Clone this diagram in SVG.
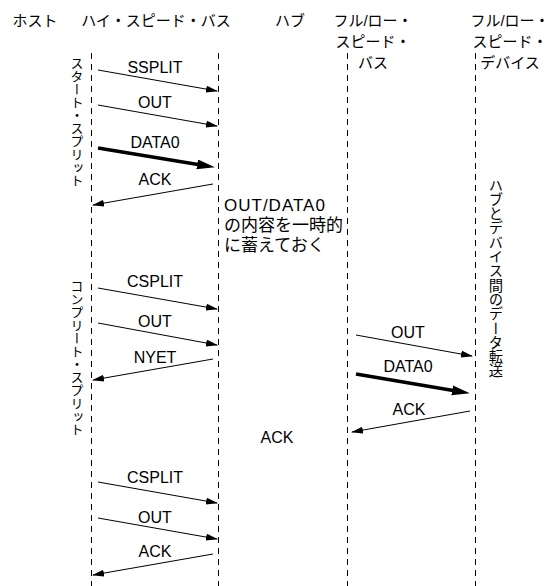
<svg xmlns="http://www.w3.org/2000/svg" width="560" height="586" viewBox="0 0 560 586">
<style>
.hd{font-family:"Liberation Sans","Noto Sans CJK JP",sans-serif;font-size:15px;fill:#000;text-anchor:middle}
.lb{font-family:"Liberation Sans","Noto Sans CJK JP",sans-serif;font-size:16px;fill:#000;text-anchor:middle}
.nt{font-family:"Liberation Sans","Noto Sans CJK JP",sans-serif;font-size:17px;fill:#000}
.vt{font-family:"Noto Sans CJK JP",sans-serif;font-size:13px;fill:#000;writing-mode:vertical-rl;text-orientation:upright}
.a{stroke:#000;stroke-width:1;fill:none;marker-end:url(#ah)}
.t{stroke:#000;stroke-width:3.5;fill:none;marker-end:url(#ahb)}
</style>
<defs>
<marker id="ah" markerUnits="userSpaceOnUse" markerWidth="12" markerHeight="8" refX="11" refY="3.5" orient="auto"><path d="M0,0 L12,3.5 L0,7 z" fill="#000"/></marker>
<marker id="ahb" markerUnits="userSpaceOnUse" markerWidth="18" markerHeight="12" refX="10" refY="5" orient="auto"><path d="M0,0 L18,5 L0,10 z" fill="#000"/></marker>
</defs>
<rect width="560" height="586" fill="#fff"/>
<g id="headers">
<text class="hd" x="35" y="26">ホスト</text>
<text class="hd" x="156" y="26">ハイ・スピード・バス</text>
<text class="hd" x="290" y="26">ハブ</text>
<text class="hd" x="373" y="26">フル/ロー・</text>
<text class="hd" x="373" y="47">スピード・</text>
<text class="hd" x="373" y="68">バス</text>
<text class="hd" x="510" y="26">フル/ロー・</text>
<text class="hd" x="510" y="47">スピード・</text>
<text class="hd" x="510" y="68">デバイス</text>
</g>
<g id="lifelines" stroke="#000" stroke-width="1" stroke-dasharray="6 5" fill="none">
<line x1="91.5" y1="53" x2="91.5" y2="586"/>
<line x1="218.5" y1="53" x2="218.5" y2="586"/>
<line x1="347.5" y1="53" x2="347.5" y2="586"/>
<line x1="475.5" y1="53" x2="475.5" y2="586"/>
</g>
<g id="labels-vertical">
<text class="vt" x="77" y="57">スタート・スプリット</text>
<text class="vt" x="77" y="280">コンプリート・スプリット</text>
<text class="vt" x="496" y="178" style="font-size:14.3px">ハブとデバイス間のデータ転送</text>
</g>
<g id="note">
<text class="nt" x="224" y="211" letter-spacing="1">OUT/DATA0</text>
<text class="nt" x="224" y="231">の内容を一時的</text>
<text class="nt" x="224" y="251">に蓄えておく</text>
</g>
<g id="connectors">
<line class="a" x1="98" y1="70" x2="217" y2="91"/>
<line class="a" x1="98" y1="105" x2="217" y2="126"/>
<line class="t" x1="98" y1="148" x2="207" y2="166"/>
<line class="a" x1="213" y1="184" x2="93" y2="205"/>
<line class="a" x1="98" y1="288" x2="217" y2="309"/>
<line class="a" x1="98" y1="323" x2="217" y2="345"/>
<line class="a" x1="213" y1="359" x2="93" y2="380"/>
<line class="a" x1="356" y1="335" x2="472" y2="356"/>
<line class="t" x1="356" y1="374" x2="462" y2="392"/>
<line class="a" x1="470" y1="411" x2="352" y2="432"/>
<line class="a" x1="98" y1="482" x2="217" y2="503"/>
<line class="a" x1="98" y1="518" x2="217" y2="539"/>
<line class="a" x1="213" y1="554" x2="93" y2="575"/>
</g>
<g id="msg-labels">
<text class="lb" x="155" y="73">SSPLIT</text>
<text class="lb" x="155" y="108">OUT</text>
<text class="lb" x="155" y="148">DATA0</text>
<text class="lb" x="155" y="185">ACK</text>
<text class="lb" x="155" y="287">CSPLIT</text>
<text class="lb" x="155" y="327">OUT</text>
<text class="lb" x="155" y="363">NYET</text>
<text class="lb" x="408" y="338">OUT</text>
<text class="lb" x="408" y="372">DATA0</text>
<text class="lb" x="409" y="415">ACK</text>
<text class="lb" x="277" y="443">ACK</text>
<text class="lb" x="155" y="483">CSPLIT</text>
<text class="lb" x="155" y="523">OUT</text>
<text class="lb" x="155" y="557">ACK</text>
</g>
</svg>
